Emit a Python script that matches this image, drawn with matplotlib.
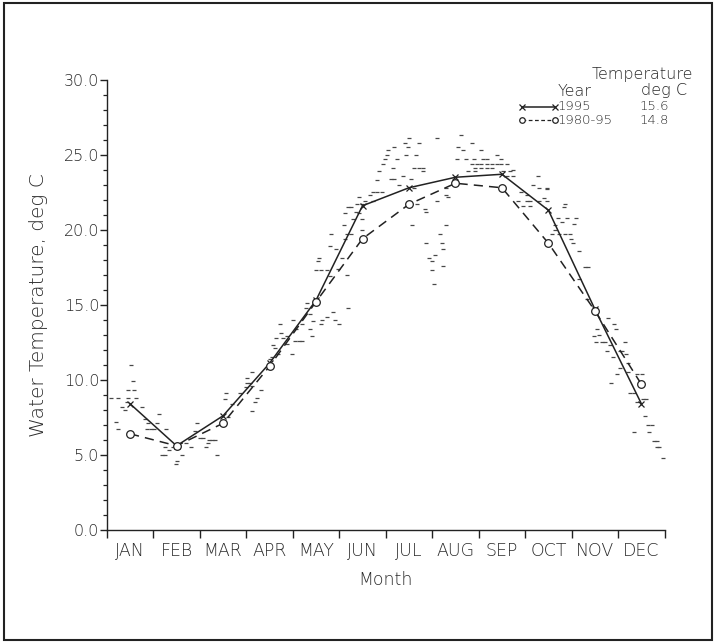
import numpy as np
import matplotlib.pyplot as plt
from matplotlib.lines import Line2D
from matplotlib.patches import Rectangle
from matplotlib.ticker import MultipleLocator, FixedLocator, FormatStrFormatter

# monthly mean water temperature, deg C
months = ['JAN', 'FEB', 'MAR', 'APR', 'MAY', 'JUN',
          'JUL', 'AUG', 'SEP', 'OCT', 'NOV', 'DEC']
temp_1995 = [8.4, 5.6, 7.6, 11.1, 15.3, 21.6, 22.8, 23.5, 23.7, 21.3, 14.7, 8.4]
temp_1980_95 = [6.4, 5.6, 7.1, 10.9, 15.2, 19.4, 21.7, 23.1, 22.8, 19.1, 14.6, 9.7]

# annual means shown in the key
annual_1995 = '15.6'
annual_1980_95 = '14.8'

# daily observations for 1995 (day of year, deg C)
daily_doy = [
    3, 7, 14, 19, 16, 17, 14, 18, 13, 10, 12, 23, 6, 7, 25, 27, 33, 34, 26, 29,
    31, 39, 36, 38, 41, 38, 43, 46, 45, 49, 52, 55, 58, 59, 61, 63, 65, 66, 67, 69,
    71, 72, 78, 77, 79, 82, 87, 92, 94, 91, 95, 98, 97, 95, 101, 109, 110, 108, 107, 95,
    92, 112, 118, 121, 111, 115, 118, 123, 126, 128, 114, 113, 122, 128, 124, 133, 134, 135, 131, 130,
    133, 158, 148, 144, 141, 140, 149, 152, 146, 157, 151, 154, 137, 140, 144, 138, 139, 150, 146, 147,
    157, 160, 156, 155, 161, 167, 167, 156, 163, 165, 160, 158, 164, 167, 169, 174, 165, 172, 174, 177,
    180, 177, 186, 188, 178, 181, 182, 183, 184, 188, 187, 190, 191, 194, 196, 195, 197, 198, 199, 201,
    204, 207, 202, 204, 201, 207, 203, 208, 209, 200, 209, 215, 211, 213, 220, 213, 214, 218, 219, 222,
    216, 223, 216, 229, 230, 232, 239, 233, 245, 255, 235, 240, 246, 249, 258, 239, 242, 245, 249, 252,
    255, 258, 262, 241, 245, 249, 252, 236, 241, 259, 264, 266, 262, 266, 222, 222, 282, 279, 283, 288,
    271, 275, 286, 269, 275, 277, 283, 288, 272, 277, 299, 295, 298, 301, 293, 293, 220, 291, 288, 300,
    307, 306, 296, 300, 303, 304, 305, 309, 313, 315, 309, 314, 328, 321, 332, 333, 319, 322, 320, 324,
    326, 329, 327, 339, 336, 337, 331, 340, 341, 336, 334, 341, 347, 350, 330, 342, 345, 351, 353, 347,
    352, 354, 357, 345, 355, 358, 360, 360, 361, 364,
]
daily_temp = [
    8.8, 8.8, 8.8, 8.8, 11.0, 9.9, 9.3, 9.3, 8.5, 8.2, 8.0, 8.2, 7.2, 6.7, 7.4, 7.1, 7.1, 7.7, 6.7, 6.7,
    6.7, 6.7, 5.0, 5.0, 5.3, 5.5, 5.5, 4.6, 4.4, 5.0, 5.8, 5.5, 6.6, 7.1, 6.1, 6.1, 5.5, 5.8, 6.0, 6.0,
    6.0, 5.0, 9.1, 8.7, 7.5, 8.4, 9.1, 9.8, 9.8, 9.5, 9.6, 8.8, 8.5, 7.9, 9.3, 12.3, 12.1, 11.5, 11.4, 10.5,
    10.1, 11.7, 12.4, 11.7, 12.8, 12.8, 12.9, 12.6, 12.6, 12.6, 13.1, 13.7, 14.0, 13.7, 13.4, 13.4, 12.9, 13.9, 15.1, 14.8,
    14.4, 14.8, 14.5, 14.2, 14.0, 13.7, 14.0, 13.7, 16.9, 17.0, 17.4, 18.1, 17.3, 17.3, 17.3, 17.9, 18.1, 18.7, 18.9, 19.7,
    19.7, 19.7, 19.4, 20.3, 20.7, 20.7, 20.0, 21.1, 21.2, 21.1, 21.5, 21.5, 21.7, 21.7, 21.9, 21.9, 22.2, 22.3, 22.5, 22.5,
    22.5, 23.3, 23.4, 23.4, 23.9, 24.4, 24.7, 25.0, 25.3, 25.5, 24.1, 24.7, 23.0, 23.6, 25.0, 25.8, 25.5, 26.1, 23.4, 24.1,
    24.1, 24.1, 25.0, 25.8, 22.8, 23.9, 21.7, 21.4, 21.2, 20.3, 19.1, 18.3, 18.1, 17.9, 17.6, 17.3, 16.4, 19.7, 19.1, 20.3,
    21.9, 22.2, 26.1, 24.7, 25.5, 26.3, 25.8, 25.3, 25.3, 25.0, 24.7, 24.7, 24.7, 24.7, 24.7, 24.4, 24.4, 24.4, 24.4, 24.4,
    24.4, 24.4, 24.4, 24.1, 24.1, 24.1, 24.1, 23.9, 23.9, 23.9, 23.9, 24.0, 23.6, 23.6, 22.8, 22.3, 23.6, 23.0, 22.8, 22.7,
    22.5, 22.3, 22.1, 21.9, 21.9, 21.9, 21.9, 21.9, 21.6, 21.6, 21.5, 20.8, 20.5, 20.8, 20.3, 20.0, 18.7, 19.7, 22.8, 21.7,
    20.8, 20.4, 19.7, 19.7, 19.7, 19.4, 19.1, 18.6, 17.5, 17.5, 16.7, 15.4, 14.1, 13.4, 13.7, 13.4, 12.9, 13.0, 12.5, 12.5,
    12.5, 12.3, 11.9, 12.5, 11.9, 11.9, 11.5, 11.7, 11.1, 10.8, 10.4, 10.5, 10.4, 10.4, 9.8, 9.1, 9.1, 8.7, 8.7, 8.5,
    7.6, 7.0, 7.0, 6.5, 6.5, 5.9, 5.9, 5.5, 5.5, 4.8,
]

ink = '#222222'
txt = '#2a2a2a'
text_kw = dict(color=txt, fontfamily='DejaVu Sans', fontweight='light')

fig = plt.figure(figsize=(7.17, 6.43), dpi=100)
ax = fig.add_axes([0.149, 0.176, 0.778, 0.700])

mid = np.arange(len(months)) + 0.5
day_x = np.array(daily_doy) / 365.0 * 12

ax.plot(day_x, daily_temp, ls='none', marker='_', ms=2.2, mew=0.9, color='#484848')
ax.plot(mid, temp_1995, color=ink, lw=1.1, marker='x', ms=4.5, mew=0.9)
ax.plot(mid, temp_1980_95, color=ink, lw=1.1, ls=(0, (6, 4)), marker='o', ms=5.5,
        mfc='white', mew=0.9)

ax.set_xlim(0, 12)
ax.set_ylim(0, 30)
for side in ('top', 'right'):
    ax.spines[side].set_visible(False)
for side in ('left', 'bottom'):
    ax.spines[side].set_linewidth(1.0)
    ax.spines[side].set_color(ink)

ax.yaxis.set_major_locator(MultipleLocator(5))
ax.yaxis.set_minor_locator(MultipleLocator(1))
ax.yaxis.set_major_formatter(FormatStrFormatter('%.1f'))
ax.tick_params(axis='y', which='major', direction='out', length=5, width=1,
               color=ink, labelsize=11.5, labelcolor=txt, pad=0.5)
ax.tick_params(axis='y', which='minor', direction='out', length=3, width=0.9, color=ink)

ax.xaxis.set_major_locator(FixedLocator(np.arange(13)))
ax.xaxis.set_major_formatter(plt.NullFormatter())
ax.set_xticks(mid, months, minor=True)
ax.tick_params(axis='x', which='major', direction='out', length=6, width=1, color=ink)
ax.tick_params(axis='x', which='minor', length=0, labelsize=12.5,
               labelcolor=txt, pad=9)
for lab in ax.get_xticklabels(minor=True) + ax.get_yticklabels():
    lab.set_fontweight('light')

ax.set_xlabel('Month', fontsize=12.5, labelpad=8, **text_kw)
ax.set_ylabel('Water Temperature, deg C', fontsize=14.5, labelpad=11, **text_kw)


def fx(px):
    return px / 717.0


def fy(py):
    return 1 - py / 643.0


# key in the upper right corner
fig.text(fx(642), fy(75), 'Temperature', ha='center', va='center', fontsize=11.5, **text_kw)
fig.text(fx(575), fy(91), 'Year', ha='center', va='center', fontsize=11.5, **text_kw)
fig.text(fx(664), fy(91), 'deg C', ha='center', va='center', fontsize=11.5, **text_kw)

fig.add_artist(Line2D([fx(522), fx(555)], [fy(106.5), fy(106.5)], transform=fig.transFigure,
                      color=ink, lw=1.1, marker='x', ms=4, mew=0.9))
fig.add_artist(Line2D([fx(522), fx(555)], [fy(120), fy(120)], transform=fig.transFigure,
                      color=ink, lw=0.9, ls=(0, (3, 2)), marker='o', ms=4, mew=0.9,
                      mfc='white'))
fig.text(fx(558), fy(106.5), '1995', ha='left', va='center', fontsize=9.5, **text_kw)
fig.text(fx(558), fy(120), '1980-95', ha='left', va='center', fontsize=9.5, **text_kw)
fig.text(fx(640), fy(106.5), annual_1995, ha='left', va='center', fontsize=9.5, **text_kw)
fig.text(fx(640), fy(120), annual_1980_95, ha='left', va='center', fontsize=9.5, **text_kw)

# page frame
fig.add_artist(Rectangle((fx(4), fy(640)), fx(708), 637 / 643.0, transform=fig.transFigure,
                         fill=False, lw=1.5, ec=ink))

fig.savefig('out.png', dpi=100)
